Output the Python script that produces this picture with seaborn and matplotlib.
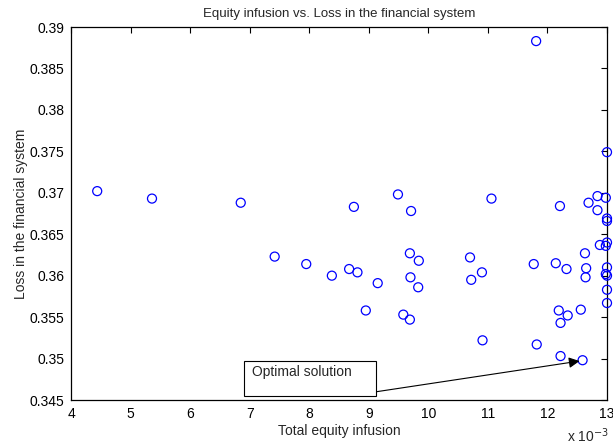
import matplotlib
matplotlib.use("Agg")
import matplotlib.pyplot as plt
import matplotlib.ticker as mticker
from matplotlib.patches import Rectangle
import seaborn as sns
import pandas as pd

# Total equity infusion (units of 1e-3)
equity = [4.44, 5.36, 6.85, 7.42, 7.95, 8.38, 8.67, 8.81, 8.75, 9.15,
          8.95, 9.49, 9.71, 9.69, 9.84, 9.70, 9.83, 9.58, 9.69, 11.06,
          10.70, 10.90, 10.72, 10.91, 11.77, 11.82, 11.81, 12.21, 12.14, 12.32,
          12.19, 12.34, 12.22, 12.22, 12.59, 12.56, 12.63, 12.65, 12.64, 12.69,
          12.84, 12.84, 12.88, 12.98, 13.00, 13.00, 13.00, 13.00, 12.98, 13.00,
          12.98, 13.00, 13.00, 13.00]
# Loss in the financial system
loss = [0.3702, 0.3693, 0.3688, 0.3623, 0.3614, 0.3600, 0.3608, 0.3604, 0.3683, 0.3591,
        0.3558, 0.3698, 0.3678, 0.3627, 0.3618, 0.3598, 0.3586, 0.3553, 0.3547, 0.3693,
        0.3622, 0.3604, 0.3595, 0.3522, 0.3614, 0.3517, 0.3883, 0.3684, 0.3615, 0.3608,
        0.3558, 0.3552, 0.3543, 0.3503, 0.3498, 0.3559, 0.3627, 0.3609, 0.3598, 0.3688,
        0.3696, 0.3679, 0.3637, 0.3694, 0.3749, 0.3669, 0.3666, 0.3640, 0.3636, 0.3610,
        0.3602, 0.3600, 0.3583, 0.3567]

optimal_x, optimal_y = 12.59, 0.3498
x_ticks = [4, 5, 6, 7, 8, 9, 10, 11, 12, 13]
y_ticks = [0.345, 0.35, 0.355, 0.36, 0.365, 0.37, 0.375, 0.38, 0.385, 0.39]

sns.set_style("white")
plt.rcParams['font.family'] = ['Liberation Sans', 'DejaVu Sans']

df = pd.DataFrame({"equity": equity, "loss": loss})

fig = plt.figure(figsize=(6.13, 4.46), dpi=100)
ax = fig.add_axes([71/613, 1-400/446, (607-71)/613, (400-27)/446])

sns.scatterplot(data=df, x="equity", y="loss", ax=ax, marker="o", s=42,
                facecolors="none", edgecolor="blue", linewidth=0.9,
                clip_on=False, zorder=3)

ax.set_xlim(4, 13)
ax.set_ylim(0.345, 0.39)
ax.set_xticks(x_ticks)
ax.set_yticks(y_ticks)
ax.xaxis.set_major_formatter(mticker.FuncFormatter(lambda v, p: "%g" % v))
ax.yaxis.set_major_formatter(mticker.FuncFormatter(lambda v, p: "%g" % round(v, 4)))
ax.tick_params(direction="in", length=4, width=0.8, top=True, right=True,
               labelsize=10, colors="black", pad=5)
for sp in ax.spines.values():
    sp.set_visible(True)
    sp.set_color("black")
    sp.set_linewidth(0.9)

ax.set_title("Equity infusion vs. Loss in the financial system", fontsize=9.5, pad=7)
ax.set_xlabel("Total equity infusion", fontsize=10, labelpad=2)
ax.set_ylabel("Loss in the financial system", fontsize=10, labelpad=1)
ax.text(1.003, -0.072, r"x 10$^{-3}$", transform=ax.transAxes, ha="right", va="top",
        fontsize=10)

# annotation box and arrow
box = Rectangle((6.90, 0.3455), 2.22, 0.0042, transform=ax.transData,
                facecolor="white", edgecolor="black", linewidth=0.8, zorder=4)
ax.add_patch(box)
ax.text(7.04, 0.3484, "Optimal solution", fontsize=10, ha="left", va="center", zorder=5)
ax.annotate("", xy=(optimal_x - 0.05, optimal_y - 0.0001), xytext=(9.13, 0.3460),
            arrowprops=dict(arrowstyle="-|>", color="black", lw=0.8,
                            mutation_scale=16, shrinkA=0, shrinkB=0), zorder=5)

fig.savefig("out.png", dpi=100)
